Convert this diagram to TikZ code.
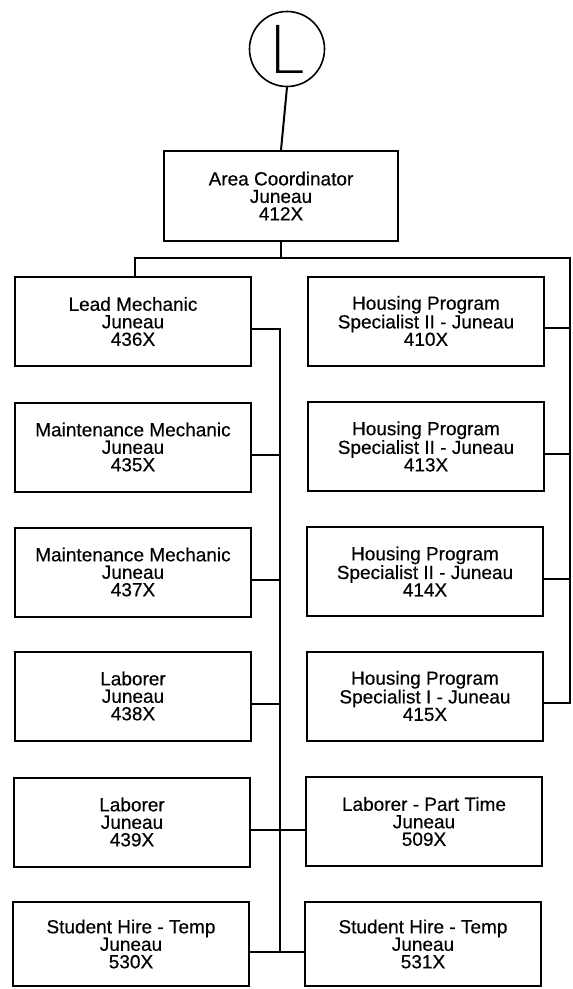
\documentclass[tikz,border=0pt]{standalone}
\usepackage{fontspec}
\setmainfont{Liberation Sans}[FakeBold=0.4]
\IfFontExistsTF{DejaVu Sans ExtraLight}{\newfontfamily\thinfont{DejaVu Sans ExtraLight}}{\newfontfamily\thinfont{DejaVu Sans}}
\begin{document}
\begin{tikzpicture}[x=1pt,y=-1pt,
  box/.style={draw, line width=2pt, minimum width=236pt, minimum height=89pt,
    inner sep=0pt, align=center, font=\fontsize{19}{17.5}\selectfont},
  conn/.style={line width=2pt, line cap=rect}]
\useasboundingbox (0,0) rectangle (573,989);
% top
\node[circle, draw, line width=1.6pt, minimum size=75pt, inner sep=0pt,
      font=\thinfont\fontsize{66}{66}\selectfont] (circ) at (287,49) {L};
\node[box, minimum width=234pt, minimum height=90pt] (ac) at (281,196) {Area Coordinator\\Juneau\\412X};
% left column
\node[box] (lm)   at (133,321.5) {Lead Mechanic\\Juneau\\436X};
\node[box] (mma)  at (133,447)   {Maintenance Mechanic\\Juneau\\435X};
\node[box] (mmb)  at (133,572)   {Maintenance Mechanic\\Juneau\\437X};
\node[box] (laba) at (133,696)   {Laborer\\Juneau\\438X};
\node[box] (labb) at (132,822)   {Laborer\\Juneau\\439X};
\node[box, minimum height=84pt] (sta) at (131,944) {Student Hire - Temp\\Juneau\\530X};
% right column
\node[box] (hpa) at (426,321)   {Housing Program\\Specialist II - Juneau\\410X};
\node[box] (hpb) at (426,446.5) {Housing Program\\Specialist II - Juneau\\413X};
\node[box] (hpc) at (425,571.5) {Housing Program\\Specialist II - Juneau\\414X};
\node[box] (hpd) at (425,696)   {Housing Program\\Specialist I - Juneau\\415X};
\node[box] (lpt) at (424,821.5) {Laborer - Part Time\\Juneau\\509X};
\node[box, minimum height=84pt] (stb) at (423,944) {Student Hire - Temp\\Juneau\\531X};
% helper coordinates
\coordinate (cx) at (280,0);
\coordinate (rx) at (570,0);
\coordinate (barL) at (135,258);
\foreach \b in {lm,mma,mmb,laba,labb,sta}{\coordinate (\b c) at ([yshift=-7.5pt]\b.east);}
\foreach \b in {hpa,hpb,hpc,hpd}{\coordinate (\b c) at ([yshift=-7pt]\b.east);}
% connectors
\draw[conn] (circ.south) -- (ac.north);
\draw[conn] (ac.south) -- (ac.south |- barL);
\draw[conn] (barL |- lm.north) -- (barL) -- (barL -| rx) -- (hpdc -| rx);
\draw[conn] (lmc -| cx) -- (stac -| cx);
\foreach \b in {lm,mma,mmb,laba}{\draw[conn] (\b c) -- (\b c -| cx);}
\draw[conn] (labbc) -- (labbc -| lpt.west);
\draw[conn] (stac) -- (stac -| stb.west);
\foreach \b in {hpa,hpb,hpc}{\draw[conn] (\b c) -- (\b c -| rx);}
\draw[conn] (hpdc) -- (hpdc -| rx);
\end{tikzpicture}
\end{document}
